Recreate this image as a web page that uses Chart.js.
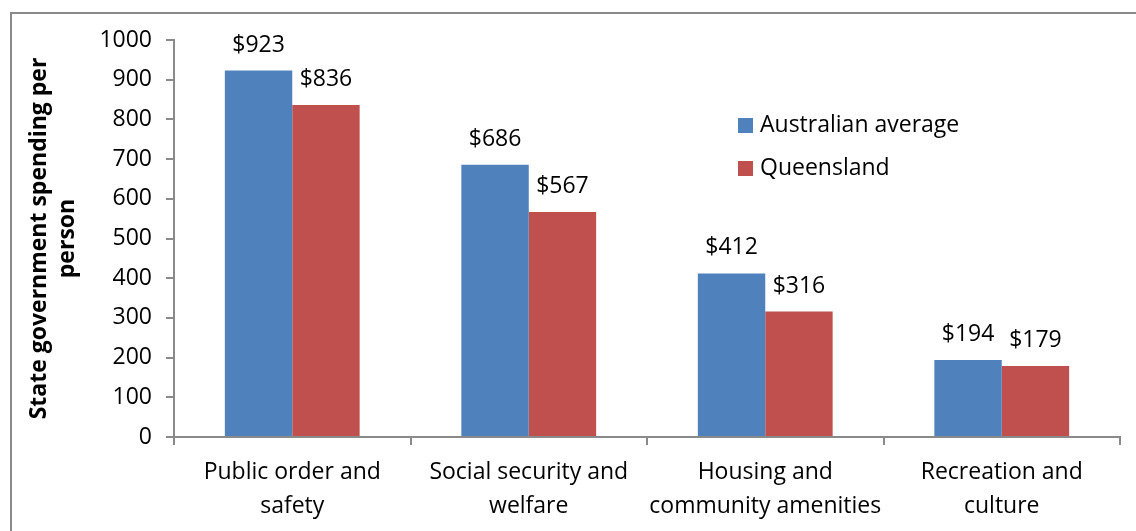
<!DOCTYPE html>
<html>
<head>
<meta charset="utf-8">
<script src="https://cdn.jsdelivr.net/npm/chart.js@4"></script>
<style>
  body { margin: 0; background: #fff; overflow: hidden; }
  #wrap { position: relative; width: 1136px; height: 531px; }
  #frame { position: absolute; left: 10px; top: 12px; width: 2000px; height: 2000px;
           border-left: 2px solid #8a8a8a; border-top: 2px solid #8a8a8a; }
  canvas { position: absolute; left: 0; top: 0; }
</style>
</head>
<body>
<div id="wrap">
  <div id="frame"></div>
  <canvas id="chart" width="1136" height="531"></canvas>
</div>
<script>
const categories = [
  ['Public order and', 'safety'],
  ['Social security and', 'welfare'],
  ['Housing and', 'community amenities'],
  ['Recreation and', 'culture']
];
const australianAverage = [923, 686, 412, 194];
const queensland = [836, 567, 316, 179];
const seriesNames = ['Australian average', 'Queensland'];
const yTitle = ['State government spending per', 'person'];

const FONT = '"Open Sans"';
const SIZE = 23;
const axisColor = '#8a8a8a';

// $ labels over each bar
const barLabels = {
  id: 'barLabels',
  afterDatasetsDraw(chart) {
    const ctx = chart.ctx;
    ctx.save();
    ctx.font = SIZE + 'px ' + FONT;
    ctx.fillStyle = '#000';
    ctx.textAlign = 'center';
    ctx.textBaseline = 'alphabetic';
    chart.data.datasets.forEach((ds, i) => {
      chart.getDatasetMeta(i).data.forEach((bar, j) => {
        ctx.fillText('$' + ds.data[j], bar.x, bar.y - 19);
      });
    });
    ctx.restore();
  }
};

// legend sits inside the plot, right side
const boxLegend = {
  id: 'boxLegend',
  afterDraw(chart) {
    const ctx = chart.ctx;
    ctx.save();
    ctx.font = SIZE + 'px ' + FONT;
    ctx.textBaseline = 'middle';
    chart.data.datasets.forEach((ds, i) => {
      const y = 125 + i * 43;
      ctx.fillStyle = ds.backgroundColor;
      ctx.fillRect(738, y - 7, 15, 15);
      ctx.fillStyle = '#000';
      ctx.fillText(ds.label, 760, y);
    });
    ctx.restore();
  }
};

new Chart(document.getElementById('chart'), {
  type: 'bar',
  data: {
    labels: categories,
    datasets: [
      { label: seriesNames[0], data: australianAverage, backgroundColor: '#4F81BD' },
      { label: seriesNames[1], data: queensland, backgroundColor: '#C0504D' }
    ]
  },
  options: {
    responsive: false,
    animation: false,
    layout: { padding: { top: 40, right: 16, left: 0, bottom: 0 } },
    datasets: { bar: { categoryPercentage: 0.57, barPercentage: 1 } },
    plugins: { legend: { display: false }, tooltip: { enabled: false } },
    scales: {
      x: {
        afterFit(scale) { scale.height = 94; },
        grid: { drawOnChartArea: false, color: axisColor, tickLength: 8, lineWidth: 2 },
        border: { color: axisColor, width: 2 },
        ticks: { color: '#000', padding: 11, maxRotation: 0, font: { family: FONT, size: SIZE, lineHeight: 1.45 } }
      },
      y: {
        min: 0,
        max: 1000,
        afterFit(scale) { scale.width = 174; },
        grid: { drawOnChartArea: false, color: axisColor, tickLength: 8, lineWidth: 2 },
        border: { color: axisColor, width: 2 },
        ticks: {
          stepSize: 100, color: '#000', padding: 14, font: { family: FONT, size: SIZE },
          callback: v => String(v)
        },
        title: {
          display: true,
          text: yTitle,
          color: '#000',
          padding: { top: 26, bottom: 0 },
          font: { family: FONT, size: 23, weight: 'bold', lineHeight: 1.2 }
        }
      }
    }
  },
  plugins: [barLabels, boxLegend]
});
</script>
</body>
</html>
